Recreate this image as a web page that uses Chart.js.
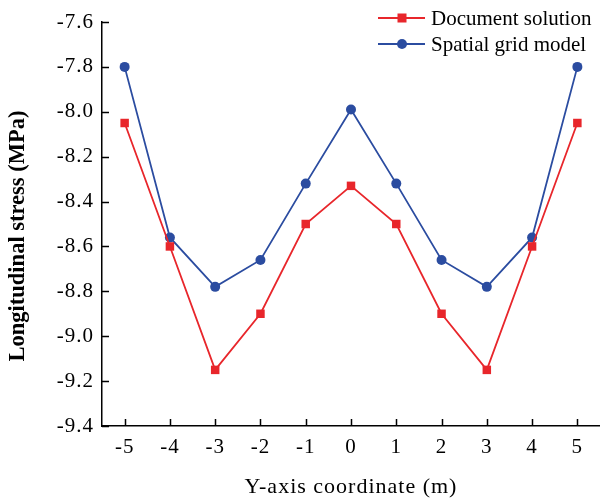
<!DOCTYPE html>
<html>
<head>
<meta charset="utf-8">
<script src="https://cdn.jsdelivr.net/npm/chart.js@4/dist/chart.umd.min.js"></script>
<style>
  html, body { margin: 0; padding: 0; background: #fff; }
  #c { display: block; }
</style>
</head>
<body>
<canvas id="c" width="600" height="502"></canvas>
<script>
const categories = ['-5', '-4', '-3', '-2', '-1', '0', '1', '2', '3', '4', '5'];
const documentSolution = [-8.05, -8.6, -9.15, -8.9, -8.5, -8.33, -8.5, -8.9, -9.15, -8.6, -8.05];
const spatialGridModel = [-7.8, -8.56, -8.78, -8.66, -8.32, -7.99, -8.32, -8.66, -8.78, -8.56, -7.8];
const yTickValues = [-9.4, -9.2, -9.0, -8.8, -8.6, -8.4, -8.2, -8.0, -7.8, -7.6];
const seriesNames = ['Document solution', 'Spatial grid model'];
const xTitle = 'Y-axis coordinate (m)';
const yTitle = 'Longitudinal stress (MPa)';

const RED = '#e8262b';
const BLUE = '#2b4ca0';
const FONT = '"Liberation Serif", "Times New Roman", serif';

const axisTextSpacing = {
  id: 'axisTextSpacing',
  beforeDraw(chart) {
    if ('letterSpacing' in chart.ctx) chart.ctx.letterSpacing = '1px';
  },
  beforeDatasetsDraw(chart) {
    if ('letterSpacing' in chart.ctx) chart.ctx.letterSpacing = '0px';
  }
};

const innerTicks = {
  id: 'innerTicks',
  afterDraw(chart) {
    const ctx = chart.ctx;
    const xs = chart.scales.x, ys = chart.scales.y;
    const area = chart.chartArea;
    ctx.save();
    ctx.strokeStyle = '#000';
    ctx.lineWidth = 1.5;
    ctx.beginPath();
    xs.ticks.forEach((t, i) => {
      const px = Math.round(xs.getPixelForTick(i)) + 0.5;
      ctx.moveTo(px, area.bottom);
      ctx.lineTo(px, area.bottom - 7);
    });
    ys.ticks.forEach((t, i) => {
      const py = Math.round(ys.getPixelForTick(i)) + 0.5;
      ctx.moveTo(area.left, py);
      ctx.lineTo(area.left + 7, py);
    });
    ctx.stroke();
    ctx.restore();
  }
};

const customText = {
  id: 'customText',
  afterDraw(chart) {
    const ctx = chart.ctx;
    if ('letterSpacing' in ctx) ctx.letterSpacing = '0px';
    ctx.save();
    ctx.translate(18, 236);
    ctx.rotate(-Math.PI / 2);
    ctx.fillStyle = '#000';
    ctx.font = 'bold 22.5px ' + FONT;
    ctx.textAlign = 'center';
    ctx.textBaseline = 'middle';
    ctx.fillText(yTitle, 0, 0);
    ctx.restore();

    ctx.save();
    const rows = [18, 44];
    chart.data.datasets.forEach((ds, i) => {
      const y = rows[i];
      ctx.strokeStyle = ds.borderColor;
      ctx.lineWidth = ds.borderWidth;
      ctx.beginPath();
      ctx.moveTo(378, y);
      ctx.lineTo(425, y);
      ctx.stroke();
      ctx.fillStyle = ds.pointBackgroundColor;
      if (ds.pointStyle === 'rect') {
        ctx.fillRect(402 - 4.5, y - 4.5, 9, 9);
      } else {
        ctx.beginPath();
        ctx.arc(402, y, 5, 0, Math.PI * 2);
        ctx.fill();
      }
      ctx.fillStyle = '#000';
      ctx.font = '21px ' + FONT;
      ctx.textAlign = 'left';
      ctx.textBaseline = 'middle';
      ctx.fillText(ds.label, 431, y + 1);
    });
    ctx.restore();
  }
};

new Chart(document.getElementById('c'), {
  type: 'line',
  data: {
    labels: categories,
    datasets: [
      {
        label: seriesNames[0],
        data: documentSolution,
        borderColor: RED,
        backgroundColor: RED,
        pointBackgroundColor: RED,
        pointBorderColor: RED,
        pointStyle: 'rect',
        pointRadius: 6,
        pointBorderWidth: 0,
        borderWidth: 1.8,
        tension: 0,
        clip: false
      },
      {
        label: seriesNames[1],
        data: spatialGridModel,
        borderColor: BLUE,
        backgroundColor: BLUE,
        pointBackgroundColor: BLUE,
        pointBorderColor: BLUE,
        pointStyle: 'circle',
        pointRadius: 5,
        pointBorderWidth: 0,
        borderWidth: 1.8,
        tension: 0,
        clip: false
      }
    ]
  },
  options: {
    responsive: false,
    animation: false,
    devicePixelRatio: 1,
    layout: { autoPadding: false, padding: { top: 22, left: 0, right: 0, bottom: 0 } },
    plugins: {
      legend: { display: false },
      tooltip: { enabled: false }
    },
    scales: {
      x: {
        type: 'category',
        offset: true,
        grid: { display: false, drawTicks: false },
        border: { display: true, color: '#000', width: 1.5 },
        ticks: {
          color: '#000',
          font: { family: FONT, size: 21 },
          padding: 9,
          maxRotation: 0,
          autoSkip: false
        },
        title: {
          display: true,
          text: xTitle,
          color: '#000',
          font: { family: FONT, size: 22 },
          padding: { top: 0, bottom: 2 }
        },
        afterFit(scale) {
          scale.height = 76;
          scale.paddingLeft = 0;
          scale.paddingRight = 0;
        }
      },
      y: {
        min: -9.4,
        max: -7.6,
        grid: { display: false, drawTicks: false },
        border: { display: true, color: '#000', width: 1.5 },
        afterBuildTicks(scale) {
          scale.ticks = yTickValues.map(v => ({ value: v }));
        },
        ticks: {
          color: '#000',
          font: { family: FONT, size: 21 },
          padding: 8,
          callback: v => Number(v).toFixed(1)
        },
        afterFit(scale) {
          scale.width = 102;
          scale.paddingTop = 0;
          scale.paddingBottom = 0;
        }
      }
    }
  },
  plugins: [axisTextSpacing, innerTicks, customText]
});
</script>
</body>
</html>
